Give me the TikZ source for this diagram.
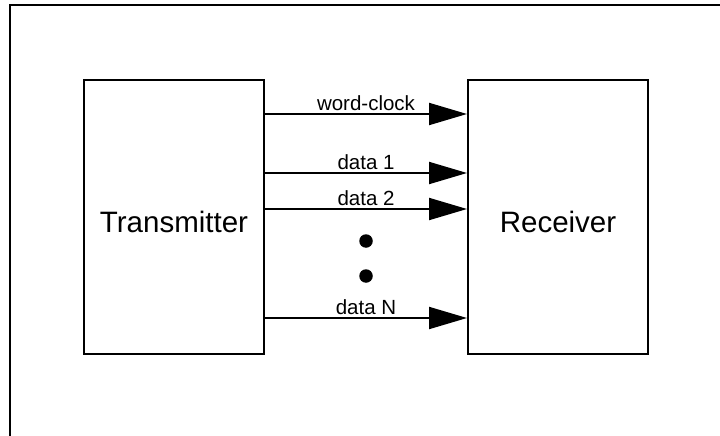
\documentclass[tikz,border=0pt]{standalone}
\usepackage{fontspec}
\setmainfont{Liberation Sans}
\usetikzlibrary{arrows.meta}
\begin{document}
\begin{tikzpicture}[x=1pt,y=-1pt,
  blockbox/.style={draw,line width=2pt,minimum width=180pt,minimum height=274pt,
    inner sep=0pt,text height=30pt,text depth=0pt,font=\fontsize{29.5}{32}\selectfont},
  sig/.style={line width=2pt,-{Triangle[length=38pt,width=22pt]}},
  siglabel/.style={above=2.5pt,inner sep=0pt,font=\fontsize{20.5}{23}\selectfont},
  dot/.style={circle,fill,inner sep=0pt,minimum size=13.5pt}]
\useasboundingbox (0,0) rectangle (720,436);
\draw[line width=2pt] (10,436) -- (10,5) -- (720,5);
\node[blockbox] (trans) at (174,217) {Transmitter};
\node[blockbox] (recv) at (558,217) {Receiver};
\draw[sig] (trans.east |- 0,114) -- (recv.west |- 0,114) node[midway,siglabel] {word-clock};
\draw[sig] (trans.east |- 0,173) -- (recv.west |- 0,173) node[midway,siglabel] {data 1};
\draw[sig] (trans.east |- 0,209) -- (recv.west |- 0,209) node[midway,siglabel] {data 2};
\draw[sig] (trans.east |- 0,318) -- (recv.west |- 0,318) node[midway,siglabel] {data N};
\node[dot] (dot1) at (366,241) {};
\node[dot] (dot2) at (366,276) {};
\end{tikzpicture}
\end{document}
